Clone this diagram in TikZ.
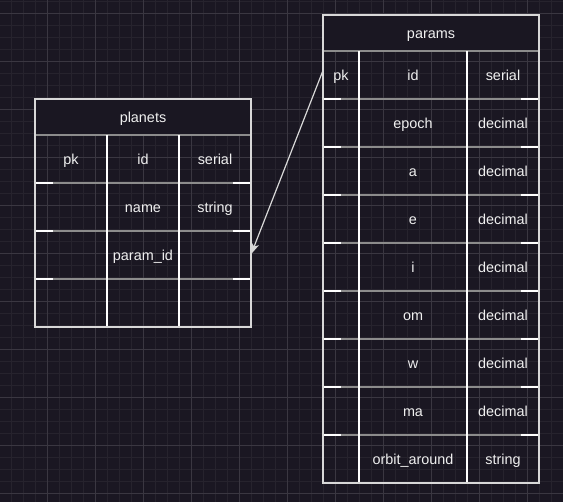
\documentclass[tikz,border=0pt]{standalone}
\usepackage{fontspec}
\setmainfont{Liberation Sans}
\usetikzlibrary{arrows.meta}
\definecolor{bg}{HTML}{1A1722}
\definecolor{gridminor}{HTML}{26232D}
\definecolor{gridmajor}{HTML}{3A3741}
\definecolor{border}{HTML}{D8D8D8}
\definecolor{sep}{HTML}{8C8C8C}
\definecolor{txt}{HTML}{F0F0F0}
\tikzset{
  minorline/.style={draw=gridminor, line width=1pt},
  majorline/.style={draw=gridmajor, line width=1pt},
  cell/.style={text=txt, font=\fontsize{14.4}{17}\selectfont, inner sep=0pt,
    text height=14pt, text depth=2pt, minimum height=48pt, anchor=center},
  titlecell/.style={cell, minimum height=36pt},
  outerline/.style={draw=border, line width=1.2pt},
  colline/.style={draw=white, line width=1.2pt},
  sepline/.style={draw=sep, line width=1.2pt},
  sepend/.style={draw=white, line width=1.2pt},
  link/.style={draw=border, line width=1.2pt, -{Stealth[length=11pt,width=8pt,inset=3pt]}},
}
\begin{document}
\begin{tikzpicture}[x=1pt,y=-1pt]
\useasboundingbox (0,0) rectangle (563,502);
\fill[bg] (0,0) rectangle (563,502);
% grid
\foreach \x in {11,23,...,563} \draw[minorline] (\x,0) -- (\x,502);
\foreach \y in {2,14,...,502} \draw[minorline] (0,\y) -- (563,\y);
\foreach \x in {47,95,...,563} \draw[majorline] (\x,0) -- (\x,502);
\foreach \y in {14,62,...,502} \draw[majorline] (0,\y) -- (563,\y);

% ---------- planets table ----------
\fill[bg] (35,99) rectangle (251,135);
\node[titlecell, minimum width=216pt] (pl-title) at (143,117) {planets};
\foreach \y in {183,231,279}{
  \draw[sepline] (35,\y) -- (251,\y);
  \draw[sepend] (35,\y) -- (53,\y);
  \draw[sepend] (233,\y) -- (251,\y);
}
\draw[sepline] (35,135) -- (251,135);
\draw[colline] (107,135) -- (107,327);
\draw[colline] (179,135) -- (179,327);
\draw[outerline] (35,99) rectangle (251,327);
\node[cell, minimum width=72pt] (pl-r1c1) at (71,159) {pk};
\node[cell, minimum width=72pt] (pl-r1c2) at (143,159) {id};
\node[cell, minimum width=72pt] (pl-r1c3) at (215,159) {serial};
\node[cell, minimum width=72pt] (pl-r2c2) at (143,207) {name};
\node[cell, minimum width=72pt] (pl-r2c3) at (215,207) {string};
\node[cell, minimum width=72pt] (pl-r3c2) at (143,255) {param\_id};
\node[cell, minimum width=72pt] (pl-r3c3) at (215,255) {};

% ---------- params table ----------
\fill[bg] (323,15) rectangle (539,51);
\node[titlecell, minimum width=216pt] (pa-title) at (431,33) {params};
\draw[sepline] (323,51) -- (539,51);
\foreach \y in {99,147,...,435}{
  \draw[sepline] (323,\y) -- (539,\y);
  \draw[sepend] (323,\y) -- (341,\y);
  \draw[sepend] (521,\y) -- (539,\y);
}
\draw[colline] (359,51) -- (359,483);
\draw[colline] (467,51) -- (467,483);
\draw[outerline] (323,15) rectangle (539,483);
\node[cell, minimum width=36pt] (pa-pk) at (341,75) {pk};
\node[cell, minimum width=108pt] (pa-id) at (413,75) {id};
\node[cell, minimum width=72pt] (pa-idt) at (503,75) {serial};
\foreach \n/\t [count=\i] in {epoch/decimal, a/decimal, e/decimal, i/decimal,
    om/decimal, w/decimal, ma/decimal, orbit\_around/string}{
  \node[cell, minimum width=108pt] (pa-n\i) at (413,75+48*\i) {\n};
  \node[cell, minimum width=72pt] (pa-t\i) at (503,75+48*\i) {\t};
}

% ---------- relation ----------
\draw[link] ([yshift=4pt]pa-pk.west) -- ([yshift=1pt]pl-r3c3.east);
\end{tikzpicture}
\end{document}
